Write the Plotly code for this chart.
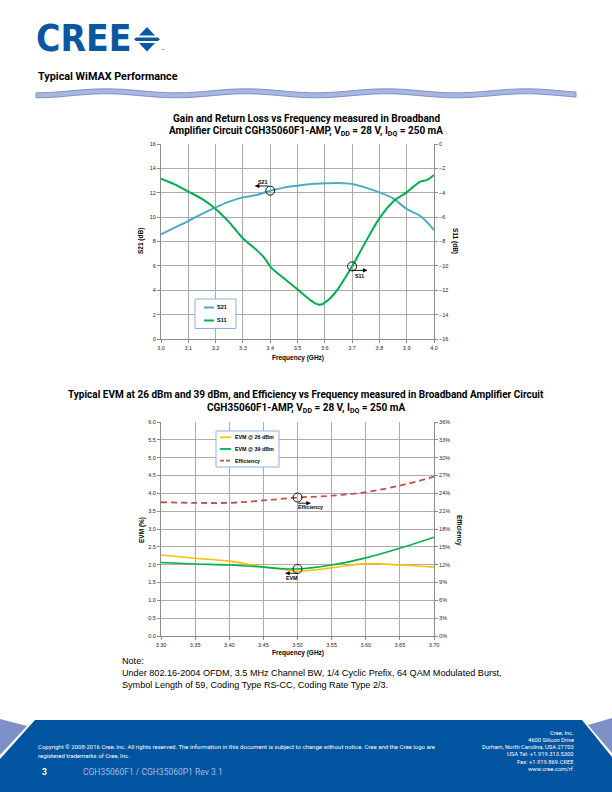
import numpy as np
import plotly.graph_objects as go

W, H = 612, 792

# ---------------- data ----------------
freq1 = [3.0, 3.05, 3.1, 3.15, 3.2, 3.25, 3.3, 3.35, 3.4, 3.45, 3.5, 3.55, 3.6,
         3.65, 3.7, 3.75, 3.8, 3.85, 3.9, 3.95, 4.0]
s21 = [8.59, 9.14, 9.68, 10.26, 10.8, 11.27, 11.62, 11.82, 12.17, 12.42, 12.58,
       12.72, 12.77, 12.8, 12.72, 12.42, 12.03, 11.54, 10.67, 10.09, 8.94]
freq_s11 = [3.0, 3.05, 3.1, 3.15, 3.2, 3.25, 3.3, 3.35, 3.38, 3.4, 3.45, 3.5, 3.55,
            3.565, 3.58, 3.59, 3.6, 3.62, 3.65, 3.7, 3.75, 3.8, 3.85, 3.9, 3.925,
            3.95, 3.975, 4.0]
s11 = [-2.84, -3.31, -3.91, -4.51, -5.33, -6.43, -7.74, -8.7, -9.38, -10.06, -11.02,
       -11.93, -12.85, -13.07, -13.18, -13.15, -13.02, -12.66, -11.84, -10.04, -8.01,
       -6.1, -4.73, -3.97, -3.5, -3.09, -2.95, -2.54]

freq2 = [3.30, 3.35, 3.40, 3.45, 3.475, 3.50, 3.55, 3.60, 3.65, 3.70]
evm26 = [2.27, 2.18, 2.10, 1.94, 1.88, 1.82, 1.91, 2.03, 1.99, 1.93]
evm39 = [2.06, 2.02, 1.99, 1.93, 1.89, 1.88, 1.99, 2.19, 2.46, 2.77]
freq_eff = [3.30, 3.35, 3.40, 3.45, 3.50, 3.55, 3.60, 3.65, 3.70]
efficiency = [22.5, 22.4, 22.4, 22.8, 23.3, 23.6, 24.2, 25.3, 26.8]

C_S21 = "#4BACC6"
C_S11 = "#00B050"
C_E26 = "#FFC000"
C_E39 = "#00B050"
C_EFF = "#C0504D"
BLUE = "#0B56A0"


def X(px):
    return px / W


def Y(py):
    return 1 - py / H


GRID = "#ABABAB"
AXL = "#8C8C8C"
TICKF = dict(family="Liberation Sans, Arial", size=5.5, color="#262626")

fig = go.Figure()
fig.add_trace(go.Scatter(x=freq1, y=s21, xaxis="x", yaxis="y", mode="lines",
                         line=dict(color=C_S21, width=2, shape="spline"), name="S21"))
fig.add_trace(go.Scatter(x=freq_s11, y=s11, xaxis="x", yaxis="y2", mode="lines",
                         line=dict(color=C_S11, width=2, shape="spline"), name="S11"))
fig.add_trace(go.Scatter(x=freq2, y=evm26, xaxis="x2", yaxis="y3", mode="lines",
                         line=dict(color=C_E26, width=1.6, shape="spline"), name="EVM @ 26 dBm"))
fig.add_trace(go.Scatter(x=freq2, y=evm39, xaxis="x2", yaxis="y3", mode="lines",
                         line=dict(color=C_E39, width=1.6, shape="spline"), name="EVM @ 39 dBm"))
fig.add_trace(go.Scatter(x=freq_eff, y=efficiency, xaxis="x2", yaxis="y4", mode="lines",
                         line=dict(color=C_EFF, width=1.8, dash="6px,4px", shape="spline"),
                         name="Efficiency"))

dom_x = [X(161), X(434)]
common = dict(showline=True, linecolor=AXL, linewidth=1, ticks="outside", ticklen=3,
              tickcolor=AXL, tickfont=TICKF, zeroline=False, automargin=False)
grid = dict(showgrid=True, gridcolor=GRID, gridwidth=1)

fig.update_layout(
    template="none",
    width=W, height=H, autosize=False,
    margin=dict(l=0, r=0, t=0, b=0, pad=0, autoexpand=False),
    paper_bgcolor="white", plot_bgcolor="white",
    showlegend=False,
    xaxis=dict(domain=dom_x, range=[3.0, 4.0], dtick=0.1, tick0=3.0, tickformat=".1f",
               anchor="y", **common, **grid),
    yaxis=dict(domain=[Y(339), Y(144)], range=[0, 16], dtick=2, anchor="x", **common, **grid),
    yaxis2=dict(overlaying="y", side="right", range=[-16, 0], dtick=2, anchor="x",
                showgrid=False, **common),
    xaxis2=dict(domain=dom_x, range=[3.3, 3.7], dtick=0.05, tick0=3.3, tickformat=".2f",
                anchor="y3", **common, **grid),
    yaxis3=dict(domain=[Y(636), Y(422)], range=[0, 6], dtick=0.5, tickformat=".1f",
                anchor="x2", **common, **grid),
    yaxis4=dict(overlaying="y3", side="right", range=[0, 36], dtick=3, ticksuffix="%",
                anchor="x2", showgrid=False, **common),
)

shapes = []
ann = []


def text(px, py, t, size, xanchor="center", yanchor="middle", color="#000",
         family="Roboto, Liberation Sans", angle=0, align="left"):
    ann.append(dict(x=X(px), y=Y(py), xref="paper", yref="paper", text=t, showarrow=False,
                    xanchor=xanchor, yanchor=yanchor, textangle=angle, align=align,
                    font=dict(family=family, size=size, color=color)))


# ---------------- header ----------------
text(34, 38.5, "<b>CREE</b>", 37, xanchor="left", color=BLUE,
     family="DejaVu Sans Condensed, Liberation Sans")
shapes.append(dict(type="path", xref="paper", yref="paper", layer="above",
                   path=f"M {X(139)},{Y(35.5)} L {X(147)},{Y(27)} L {X(155)},{Y(35.5)} Z",
                   fillcolor=BLUE, line=dict(width=0)))
shapes.append(dict(type="path", xref="paper", yref="paper", layer="above",
                   path=f"M {X(134)},{Y(39.2)} L {X(136)},{Y(37.4)} L {X(158)},{Y(37.4)} "
                        f"L {X(160)},{Y(39.2)} L {X(158)},{Y(41)} L {X(136)},{Y(41)} Z",
                   fillcolor=BLUE, line=dict(width=0)))
shapes.append(dict(type="path", xref="paper", yref="paper", layer="above",
                   path=f"M {X(139)},{Y(43)} L {X(147)},{Y(51.5)} L {X(155)},{Y(43)} Z",
                   fillcolor=BLUE, line=dict(width=0)))
text(158.5, 49.5, "TM", 2.5, xanchor="left", color=BLUE)

text(36, 76.5, "<b>Typical WiMAX Performance</b>", 10.8, xanchor="left")

# wavy band (decoration)
xs = np.linspace(36, 576, 121)
yc = 93.3 + 2.0 * np.cos(2 * np.pi * (xs - 36) / 140.0)
top = [(x, y - 2.5) for x, y in zip(xs, yc)]
bot = [(x, y + 2.5) for x, y in zip(xs[::-1], yc[::-1])]
pts = top + bot
path = "M " + " L ".join(f"{X(a):.5f},{Y(b):.5f}" for a, b in pts) + " Z"
shapes.append(dict(type="path", xref="paper", yref="paper", path=path,
                   fillcolor="#A9B6DF", line=dict(color="#6C80C0", width=0.8)))

# ---------------- chart titles ----------------
TS = 10
text(306, 118, "<b>Gain and Return Loss vs Frequency measured in Broadband</b>", TS)
text(306, 131, "<b>Amplifier Circuit CGH35060F1-AMP, V<sub>DD</sub> = 28 V, "
               "I<sub>DQ</sub> = 250 mA</b>", TS)
text(306, 395, "<b>Typical EVM at 26 dBm and 39 dBm, and Efficiency vs Frequency measured "
               "in Broadband Amplifier Circuit</b>", TS)
text(306, 408, "<b>CGH35060F1-AMP, V<sub>DD</sub> = 28 V, I<sub>DQ</sub> = 250 mA</b>", TS)

AXT = "Liberation Sans, Arial"
text(297.5, 358, "<b>Frequency (GHz)</b>", 6.5, family=AXT)
text(141, 241, "<b>S21 (dB)</b>", 6.5, family=AXT, angle=-90)
text(455, 241, "<b>S11 (dB)</b>", 6.5, family=AXT, angle=90)
text(297.5, 653, "<b>Frequency (GHz)</b>", 6.5, family=AXT)
text(142, 530, "<b>EVM (%)</b>", 6.5, family=AXT, angle=-90)
text(459, 530, "<b>Efficiency</b>", 6.5, family=AXT, angle=90)

# ---------------- manual legends ----------------
LEGB = "#8FB0DE"
shapes.append(dict(type="rect", xref="paper", yref="paper", layer="above",
                   x0=X(195), x1=X(236), y0=Y(328.5), y1=Y(299), fillcolor="white",
                   line=dict(color=LEGB, width=1)))
for yy, col, lab in [(307.5, C_S21, "S21"), (320.5, C_S11, "S11")]:
    shapes.append(dict(type="line", xref="paper", yref="paper", layer="above",
                       x0=X(204), x1=X(214), y0=Y(yy), y1=Y(yy), line=dict(color=col, width=2)))
    text(215, yy, f"<b>{lab}</b>", 5.5, xanchor="left", family=AXT)

shapes.append(dict(type="rect", xref="paper", yref="paper", layer="above",
                   x0=X(216), x1=X(279), y0=Y(467), y1=Y(431), fillcolor="white",
                   line=dict(color=LEGB, width=1)))
for yy, col, lab, dash in [(437.3, C_E26, "EVM @ 26 dBm", "solid"),
                           (449, C_E39, "EVM @ 39 dBm", "solid"),
                           (460.7, C_EFF, "Efficiency", "4px,2px")]:
    shapes.append(dict(type="line", xref="paper", yref="paper", layer="above",
                       x0=X(220), x1=X(231), y0=Y(yy), y1=Y(yy),
                       line=dict(color=col, width=1.8, dash=dash)))
    text(233, yy, f"<b>{lab}</b>", 5.3, xanchor="left", family=AXT)


# ---------------- callouts (anchored to data, offsets in pixels) ----------------
def callout(xv, yv, xref, yref, tail, head, label, lab_shift):
    base = dict(xref=xref, yref=yref, xsizemode="pixel", ysizemode="pixel",
                xanchor=xv, yanchor=yv, layer="above")
    shapes.append(dict(type="circle", x0=-4.5, x1=4.5, y0=-4.5, y1=4.5,
                       line=dict(color="black", width=0.9), **base))
    shapes.append(dict(type="path", path=f"M {tail[0]},{tail[1]} L {head[0]},{head[1]}",
                       line=dict(color="black", width=0.9), **base))
    d = 1 if head[0] > tail[0] else -1
    bx = head[0] - d * 3.6
    shapes.append(dict(type="path",
                       path=f"M {head[0]},{head[1]} L {bx},{head[1] + 1.8} "
                            f"L {bx},{head[1] - 1.8} Z",
                       fillcolor="black", line=dict(color="black", width=0.5), **base))
    ann.append(dict(x=xv, y=yv, xref=xref, yref=yref, text=f"<b>{label}</b>",
                    showarrow=False, xshift=lab_shift[0], yshift=lab_shift[1],
                    font=dict(family=AXT, size=5.3, color="#000")))


i = freq1.index(3.4)
callout(3.4, s21[i], "x", "y", (-1.7, 4.7), (-14.7, 4.7), "S21", (-8, 8.7))
j = freq_s11.index(3.7)
callout(3.7, s11[j], "x", "y2", (-0.3, -4), (14.7, -4), "S11", (7, -9.5))
k = freq_eff.index(3.50)
callout(3.50, efficiency[k], "x2", "y4", (0.7, -5.7), (12.7, -5.7), "Efficiency", (13, -9.8))
m = freq2.index(3.50)
callout(3.50, evm39[m], "x2", "y3", (0.3, -4.3), (-11.7, -4.3), "EVM", (-6, -9))

# ---------------- note ----------------
NOTEF = "Liberation Sans, Arial"
NS = 9.1
text(120, 661, "Note:", NS, xanchor="left", family=NOTEF)
text(120, 673, "Under 802.16-2004 OFDM, 3.5 MHz Channel BW, 1/4 Cyclic Prefix, 64 QAM "
               "Modulated Burst,", NS, xanchor="left", family=NOTEF)
text(120, 685, "Symbol Length of 59, Coding Type RS-CC, Coding Rate Type 2/3.", NS,
     xanchor="left", family=NOTEF)

# ---------------- footer ----------------
FOOT = "#0054A0"
LIGHT = "#7D90C8"
shapes.append(dict(type="path", xref="paper", yref="paper",
                   path=f"M {X(35)},{Y(720)} L {X(582)},{Y(720)} L {X(612)},{Y(757)} "
                        f"L {X(612)},{Y(792)} L {X(0)},{Y(792)} L {X(0)},{Y(759)} Z",
                   fillcolor=FOOT, line=dict(width=0)))
shapes.append(dict(type="path", xref="paper", yref="paper",
                   path=f"M {X(0)},{Y(719)} L {X(27)},{Y(726)} L {X(0)},{Y(755)} Z",
                   fillcolor=LIGHT, line=dict(width=0)))
shapes.append(dict(type="path", xref="paper", yref="paper",
                   path=f"M {X(588)},{Y(725)} L {X(612)},{Y(718)} L {X(612)},{Y(753)} Z",
                   fillcolor=LIGHT, line=dict(width=0)))

FF = "Roboto, Liberation Sans"
text(36, 746.7, "Copyright © 2008-2016 Cree, Inc. All rights reserved. The information in this "
                "document is subject to change without notice. Cree and the Cree logo are",
     6.0, xanchor="left", color="white", family=FF)
text(36, 755, "registered trademarks of Cree, Inc.", 6.0, xanchor="left", color="white",
     family=FF)
text(40, 772, "<b>3</b>", 8.5, xanchor="left", color="white", family=FF)
text(81, 772, "CGH35060F1 / CGH35060P1 Rev 3.1", 8.5, xanchor="left", color="#A8BCE0",
     family=FF)
right_lines = ["Cree, Inc.", "4600 Silicon Drive", "Durham, North Carolina, USA 27703",
               "USA Tel: +1.919.313.5300", "Fax: +1.919.869.CREE", "www.cree.com/rf"]
for yy, t in zip([732.7, 739.8, 747, 754.2, 761.5, 768.8], right_lines):
    text(576, yy, t, 5.8, xanchor="right", color="white", family=FF)

fig.update_layout(shapes=shapes, annotations=ann)
fig.write_html("out.html", config={"displayModeBar": False, "staticPlot": True},
               post_script="document.body.style.margin='0px';"
                           "document.body.style.overflow='hidden';")
